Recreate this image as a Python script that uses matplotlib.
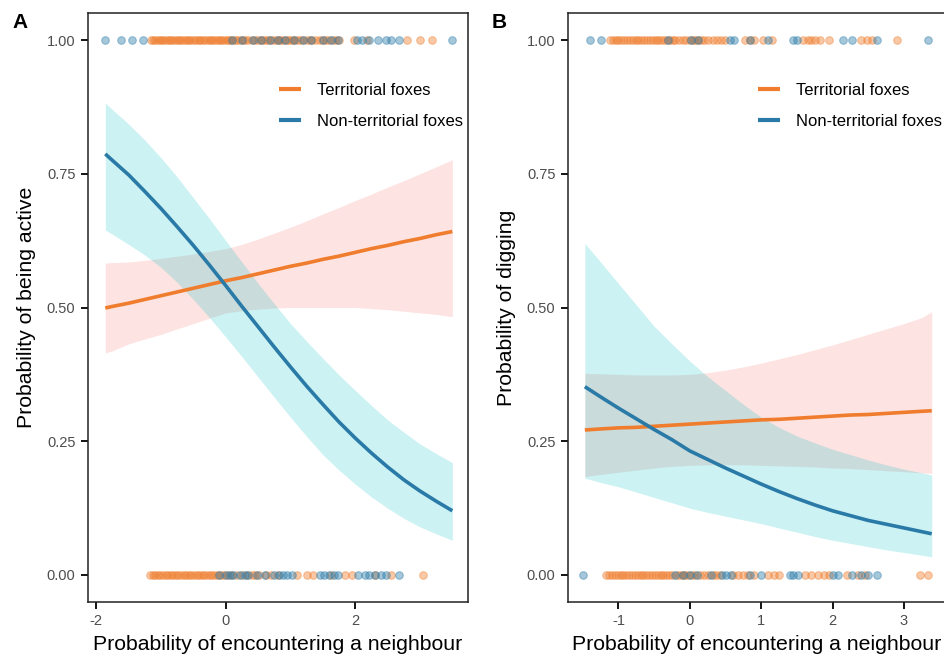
import numpy as np
import matplotlib
matplotlib.use("Agg")
import matplotlib.pyplot as plt

plt.rcParams['font.family'] = ['Liberation Sans', 'DejaVu Sans']
plt.rcParams['axes.unicode_minus'] = False

# ---- panel A : probability of being active ----
xA = [-1.86, -1.75, -1.5, -1.25, -1.0, -0.75, -0.5, -0.25, 0.0, 0.25, 0.5, 0.75,
      1.0, 1.25, 1.5, 1.75, 2.0, 2.25, 2.5, 2.75, 3.0, 3.25, 3.5]
terrA = [0.499, 0.502, 0.508, 0.515, 0.522, 0.529, 0.536, 0.543, 0.550, 0.556, 0.563, 0.570,
         0.577, 0.583, 0.590, 0.596, 0.603, 0.610, 0.616, 0.623, 0.629, 0.636, 0.642]
terrA_hi = [0.583, 0.584, 0.585, 0.588, 0.592, 0.596, 0.600, 0.605, 0.610, 0.618, 0.628, 0.639,
            0.650, 0.662, 0.675, 0.687, 0.700, 0.712, 0.725, 0.737, 0.750, 0.763, 0.776]
terrA_lo = [0.415, 0.419, 0.432, 0.441, 0.450, 0.460, 0.470, 0.480, 0.490, 0.494, 0.497, 0.499,
            0.500, 0.500, 0.500, 0.500, 0.500, 0.498, 0.496, 0.493, 0.490, 0.487, 0.483]
nonA = [0.787, 0.775, 0.748, 0.717, 0.685, 0.651, 0.616, 0.579, 0.541, 0.502, 0.464, 0.426,
        0.389, 0.353, 0.319, 0.286, 0.256, 0.228, 0.202, 0.178, 0.157, 0.138, 0.120]
nonA_hi = [0.882, 0.870, 0.843, 0.813, 0.780, 0.744, 0.705, 0.666, 0.625, 0.585, 0.545, 0.507,
           0.470, 0.437, 0.405, 0.374, 0.345, 0.317, 0.290, 0.267, 0.245, 0.227, 0.210]
nonA_lo = [0.645, 0.637, 0.618, 0.598, 0.575, 0.547, 0.515, 0.481, 0.445, 0.408, 0.370, 0.332,
           0.295, 0.259, 0.225, 0.196, 0.170, 0.146, 0.125, 0.106, 0.090, 0.077, 0.065]

# observations (x of each fox-day) at y = 1 and y = 0
terr_top_A = [-1.15, -1.12, -1.09, -1.05, -1.02, -0.98, -0.95, -0.91, -0.88, -0.84, -0.81, -0.77,
              -0.74, -0.70, -0.67, -0.63, -0.60, -0.56, -0.53, -0.49, -0.46, -0.42, -0.39, -0.35,
              -0.32, -0.28, -0.25, -0.21, -0.18, -0.14, -0.11, -0.07, -0.04, 0.00, 0.03, 0.07,
              0.10, 0.14, 0.18, 0.22, 0.26, 0.30, 0.35, 0.40, 0.45, 0.50, 0.54, 0.58, 0.62,
              0.66, 0.70, 0.75, 0.79, 0.82, 0.86, 0.90, 0.94, 0.98, 1.02, 1.06, 1.10, 1.15,
              1.20, 1.25, 1.30, 1.34, 1.40, 1.45, 1.50, 1.55, 1.60, 1.66, 1.71, 1.75, 1.98,
              2.18, 2.80, 3.00, 3.18]
non_top_A = [-1.87, -1.61, -1.45, -1.27, 0.10, 0.25, 0.42, 0.55, 0.68, 0.80, 0.92, 1.05, 1.20,
             1.32, 1.50, 1.62, 1.74, 2.02, 2.10, 2.22, 2.35, 2.48, 2.55, 2.68, 3.49]
terr_bot_A = [-1.17, -1.13, -1.09, -1.05, -1.01, -0.97, -0.93, -0.89, -0.85, -0.81, -0.77, -0.73,
              -0.69, -0.65, -0.61, -0.57, -0.53, -0.49, -0.45, -0.41, -0.37, -0.33, -0.29, -0.25,
              -0.21, -0.17, -0.12, -0.07, -0.02, 0.04, 0.10, 0.17, 0.25, 0.33, 0.40, 0.45, 0.52,
              0.62, 0.70, 0.80, 1.10, 1.25, 1.35, 1.62, 1.85, 1.95, 2.30, 2.55, 3.05]
non_bot_A = [-0.10, 0.00, 0.06, 0.12, 0.22, 0.30, 0.35, 0.48, 0.60, 0.75, 0.82, 0.88, 0.95,
             1.02, 1.45, 1.52, 1.60, 1.68, 1.74, 2.05, 2.15, 2.22, 2.30, 2.40, 2.48, 2.67]

# ---- panel B : probability of digging ----
xB = [-1.47, -1.25, -1.0, -0.75, -0.5, -0.25, 0.0, 0.25, 0.5, 0.75, 1.0, 1.25, 1.5,
      1.75, 2.0, 2.25, 2.5, 2.75, 3.0, 3.25, 3.39]
terrB = [0.271, 0.273, 0.275, 0.276, 0.278, 0.280, 0.282, 0.284, 0.286, 0.288, 0.290, 0.291,
         0.293, 0.295, 0.297, 0.299, 0.300, 0.302, 0.304, 0.306, 0.307]
terrB_hi = [0.377, 0.376, 0.375, 0.374, 0.374, 0.374, 0.375, 0.378, 0.383, 0.389, 0.396, 0.404,
            0.412, 0.421, 0.430, 0.440, 0.450, 0.460, 0.470, 0.481, 0.492]
terrB_lo = [0.184, 0.188, 0.192, 0.196, 0.200, 0.203, 0.205, 0.206, 0.206, 0.206, 0.205, 0.204,
            0.203, 0.202, 0.200, 0.199, 0.197, 0.195, 0.193, 0.191, 0.190]
nonB = [0.352, 0.333, 0.312, 0.292, 0.272, 0.253, 0.232, 0.216, 0.200, 0.185, 0.170, 0.156,
        0.143, 0.131, 0.120, 0.111, 0.102, 0.095, 0.088, 0.081, 0.077]
nonB_hi = [0.620, 0.585, 0.545, 0.505, 0.465, 0.432, 0.400, 0.371, 0.345, 0.319, 0.295, 0.276,
           0.260, 0.247, 0.235, 0.225, 0.215, 0.206, 0.198, 0.191, 0.187]
nonB_lo = [0.181, 0.173, 0.165, 0.155, 0.145, 0.135, 0.125, 0.117, 0.110, 0.103, 0.096, 0.088,
           0.080, 0.072, 0.065, 0.059, 0.053, 0.047, 0.042, 0.037, 0.034]

terr_top_B = [-1.12, -1.08, -1.04, -1.00, -0.96, -0.92, -0.88, -0.84, -0.80, -0.76, -0.72, -0.68,
              -0.64, -0.60, -0.56, -0.52, -0.48, -0.44, -0.40, -0.36, -0.32, -0.28, -0.24, -0.20,
              -0.15, -0.10, -0.05, 0.00, 0.04, 0.08, 0.12, 0.16, 0.20, 0.26, 0.32, 0.38, 0.44,
              0.50, 0.78, 0.84, 0.90, 1.02, 1.15, 1.58, 1.65, 1.70, 1.76, 1.82, 1.95, 2.40,
              2.48, 2.55, 2.90]
non_top_B = [-1.40, -1.24, -0.30, 0.02, 0.12, 0.56, 0.62, 0.85, 1.10, 1.45, 1.50, 2.15, 2.28,
             2.62, 3.34]
terr_bot_B = [-1.17, -1.13, -1.09, -1.05, -1.01, -0.97, -0.93, -0.89, -0.85, -0.81, -0.77, -0.73,
              -0.69, -0.65, -0.61, -0.57, -0.53, -0.49, -0.45, -0.41, -0.37, -0.33, -0.29, -0.25,
              -0.18, -0.14, -0.10, -0.06, -0.02, 0.03, 0.08, 0.14, 0.20, 0.26, 0.32, 0.37, 0.42,
              0.60, 0.68, 0.75, 0.82, 0.90, 1.10, 1.18, 1.25, 1.62, 1.70, 1.80, 1.88, 1.95,
              2.20, 2.36, 2.45, 3.22, 3.34]
non_bot_B = [-1.50, -0.20, -0.10, 0.00, 0.10, 0.30, 0.45, 0.51, 0.58, 0.85, 1.00, 1.40, 1.45,
             1.52, 2.00, 2.08, 2.28, 2.40, 2.50, 2.62]

yticks = [0.0, 0.25, 0.5, 0.75, 1.0]
ytick_labels = ['0.00', '0.25', '0.50', '0.75', '1.00']

c_terr = '#EF7D2D'
c_non = '#2A7AA8'
fill_terr = '#F8766D'
fill_non = '#00BFC4'


def panel(ax, x, t, t_hi, t_lo, n, n_hi, n_lo, tt, nt, tb, nb):
    ax.fill_between(x, t_lo, t_hi, color=fill_terr, alpha=0.2, lw=0)
    ax.fill_between(x, n_lo, n_hi, color=fill_non, alpha=0.2, lw=0)
    for xs, yv, c in [(tt, 1, c_terr), (nt, 1, c_non), (tb, 0, c_terr), (nb, 0, c_non)]:
        ax.scatter(xs, [yv] * len(xs), s=30, color=c, alpha=0.42, linewidths=0.8, zorder=3)
    ax.plot(x, t, color=c_terr, lw=2.6, label='Territorial foxes', zorder=4,
            solid_capstyle='butt')
    ax.plot(x, n, color=c_non, lw=2.6, label='Non-territorial foxes', zorder=4,
            solid_capstyle='butt')
    ax.set_ylim(-0.05, 1.05)
    ax.set_yticks(yticks)
    ax.set_yticklabels(ytick_labels)
    for s in ax.spines.values():
        s.set_linewidth(1.1)
        s.set_color('#222222')
    ax.tick_params(length=5, width=1.3, color='black', labelsize=10.5,
                   labelcolor='#4D4D4D', pad=4)
    ax.set_xlabel('Probability of encountering a neighbour', fontsize=15.3, labelpad=5)
    leg = ax.legend(loc='upper left', bbox_to_anchor=(0.503, 0.882), frameon=False,
                    fontsize=12, handlelength=1.3, handletextpad=0.95, labelspacing=0.95,
                    borderpad=0, borderaxespad=0)
    for h in leg.get_lines():
        h.set_linewidth(3)


fig = plt.figure(figsize=(9.45, 6.58), dpi=100)
axA = fig.add_axes([88 / 945, 56.25 / 658, 380 / 945, 588.5 / 658])
axB = fig.add_axes([568 / 945, 56.25 / 658, 378 / 945, 588.5 / 658])

panel(axA, xA, terrA, terrA_hi, terrA_lo, nonA, nonA_hi, nonA_lo,
      terr_top_A, non_top_A, terr_bot_A, non_bot_A)
axA.set_xlim(-2.127, 3.742)
axA.set_xticks([-2, 0, 2])
axA.set_ylabel('Probability of being active', fontsize=15.3, labelpad=8)

panel(axB, xB, terrB, terrB_hi, terrB_lo, nonB, nonB_hi, nonB_lo,
      terr_top_B, non_top_B, terr_bot_B, non_bot_B)
axB.set_xlim(-1.706, 3.59)
axB.set_xticks([-1, 0, 1, 2, 3])
axB.set_ylabel('Probability of digging', fontsize=15.3, labelpad=8)

fig.text(12 / 945, 1 - 28 / 658, 'A', fontsize=15, fontweight='bold')
fig.text(492 / 945, 1 - 28 / 658, 'B', fontsize=15, fontweight='bold')

fig.savefig('out.png', dpi=100)
